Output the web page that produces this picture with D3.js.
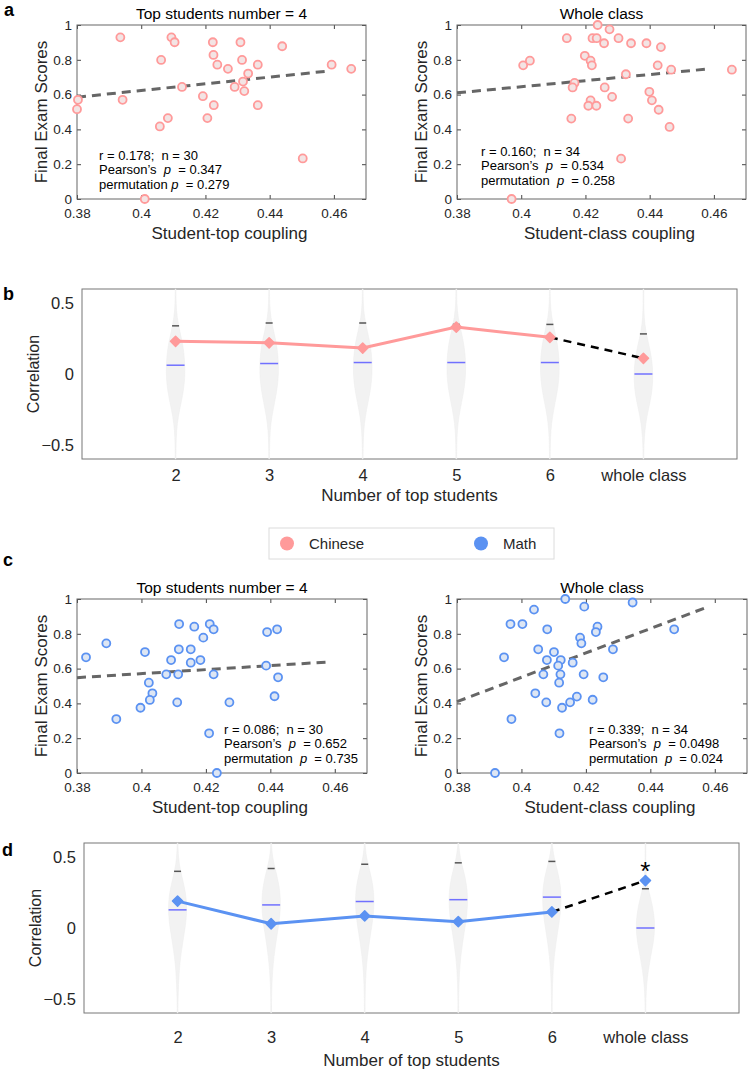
<!DOCTYPE html>
<html>
<head>
<meta charset="utf-8">
<script src="https://cdn.jsdelivr.net/npm/d3@7"></script>
<style>
  body { margin: 0; background: #fff; }
  svg { font-family: "Liberation Sans", Arial, Helvetica, sans-serif; }
  text { white-space: pre; }
</style>
</head>
<body>
<div id="chart"></div>
<script>
// ---- data ----
var xTicks = [0.38, 0.40, 0.42, 0.44, 0.46];
var yTicks = [0, 0.2, 0.4, 0.6, 0.8, 1];

var chineseTopX = [0.3935, 0.4094, 0.4104, 0.4223, 0.4309, 0.4439, 0.4062, 0.4225, 0.4237, 0.4270,
                   0.4314, 0.4363, 0.4333, 0.4593, 0.4654, 0.4317, 0.4127, 0.4291, 0.4321, 0.3803,
                   0.3942, 0.3800, 0.4192, 0.4226, 0.4363, 0.4083, 0.4206, 0.4058, 0.4503, 0.4011];
var chineseTopY = [0.929, 0.929, 0.901, 0.901, 0.901, 0.878, 0.799, 0.828, 0.772, 0.748,
                   0.799, 0.772, 0.721, 0.772, 0.748, 0.675, 0.644, 0.644, 0.620, 0.570,
                   0.570, 0.516, 0.591, 0.539, 0.539, 0.465, 0.465, 0.417, 0.233, 0.0];

var chineseClassX = [0.4238, 0.4275, 0.4142, 0.4222, 0.4235, 0.4303, 0.4258, 0.4342, 0.4390, 0.4435,
                     0.4198, 0.4216, 0.4220, 0.4006, 0.4027, 0.4425, 0.4467, 0.4656, 0.4326, 0.4166,
                     0.4160, 0.4260, 0.4399, 0.4283, 0.4216, 0.4407, 0.4209, 0.4234, 0.4428, 0.4156,
                     0.4333, 0.4462, 0.4311, 0.3970];
var chineseClassY = [1.0, 0.975, 0.924, 0.924, 0.924, 0.924, 0.895, 0.895, 0.895, 0.873,
                     0.823, 0.795, 0.768, 0.768, 0.795, 0.768, 0.743, 0.743, 0.717, 0.667,
                     0.641, 0.641, 0.616, 0.587, 0.567, 0.567, 0.536, 0.536, 0.513, 0.462,
                     0.462, 0.414, 0.232, 0.0];

var mathTopX = [0.4117, 0.4212, 0.4164, 0.4224, 0.4192, 0.4390, 0.4421, 0.3891, 0.3828, 0.4011,
                0.4116, 0.4153, 0.4092, 0.4153, 0.4183, 0.4387, 0.4077, 0.4114, 0.4224, 0.4424,
                0.4023, 0.4034, 0.4026, 0.3997, 0.4111, 0.4273, 0.4413, 0.3922, 0.4210, 0.4234];
var mathTopY = [0.856, 0.856, 0.841, 0.826, 0.778, 0.810, 0.826, 0.745, 0.665, 0.695,
                0.711, 0.711, 0.649, 0.634, 0.649, 0.617, 0.567, 0.567, 0.567, 0.550,
                0.519, 0.458, 0.420, 0.375, 0.406, 0.406, 0.441, 0.310, 0.228, 0.0];

var mathClassX = [0.4136, 0.4345, 0.4195, 0.4039, 0.3966, 0.4003, 0.4080, 0.4236, 0.4231, 0.4474,
                  0.4182, 0.4186, 0.4052, 0.4101, 0.4284, 0.3946, 0.4079, 0.4122, 0.4159, 0.4114,
                  0.4068, 0.4121, 0.4193, 0.4254, 0.4117, 0.4043, 0.4077, 0.4126, 0.4151, 0.4172,
                  0.4221, 0.3969, 0.4118, 0.3918];
var mathClassY = [1.0, 0.98, 0.956, 0.939, 0.856, 0.856, 0.826, 0.841, 0.810, 0.826,
                  0.778, 0.745, 0.711, 0.695, 0.711, 0.665, 0.649, 0.649, 0.634, 0.617,
                  0.567, 0.567, 0.567, 0.550, 0.519, 0.458, 0.406, 0.375, 0.406, 0.439,
                  0.421, 0.310, 0.228, 0.0];

// regression line ends
var fitX = [0.38, 0.458];
var chineseTopFit = [0.585, 0.735];
var chineseClassFit = [0.61, 0.747];
var mathTopFit = [0.548, 0.638];
var mathClassFit = [0.41, 0.956];

// stats text: [plain, italic p, rest]
var chineseTopStats = [["r = 0.178;  n = 30"], ["Pearson\u2019s  ", "p", "  = 0.347"], ["permutation ", "p", "  = 0.279"]];
var chineseClassStats = [["r = 0.160;  n = 34"], ["Pearson\u2019s  ", "p", "  = 0.534"], ["permutation  ", "p", "  = 0.258"]];
var mathTopStats = [["r = 0.086;  n = 30"], ["Pearson\u2019s  ", "p", "  = 0.652"], ["permutation  ", "p", "  = 0.735"]];
var mathClassStats = [["r = 0.339;  n = 34"], ["Pearson\u2019s  ", "p", "  = 0.0498"], ["permutation  ", "p", "  = 0.024"]];

// violin panels
var categories = ["2", "3", "4", "5", "6", "whole class"];
var catPos = [2, 3, 4, 5, 6, 7];
var corrTicks = [-0.5, 0, 0.5];
var corrLevels = [-0.6, -0.5, -0.4, -0.3, -0.2, -0.1, 0, 0.1, 0.2, 0.3, 0.4, 0.5, 0.6];

var chineseCorr = [0.231, 0.220, 0.183, 0.331, 0.259, 0.111];
var chineseNullMean = [0.062, 0.074, 0.081, 0.081, 0.081, 0.0];
var chineseNull95 = [0.34, 0.36, 0.36, 0.35, 0.35, 0.283];
var chineseDensity = [
  [0.02, 0.05, 0.10, 0.28, 0.60, 0.88, 1.00, 0.95, 0.80, 0.45, 0.15, 0.05, 0.02],
  [0.02, 0.05, 0.10, 0.28, 0.58, 0.86, 1.00, 0.97, 0.82, 0.48, 0.16, 0.05, 0.02],
  [0.02, 0.05, 0.10, 0.27, 0.56, 0.85, 1.00, 0.98, 0.83, 0.50, 0.17, 0.05, 0.02],
  [0.02, 0.05, 0.10, 0.27, 0.56, 0.85, 1.00, 0.98, 0.84, 0.52, 0.18, 0.05, 0.02],
  [0.02, 0.05, 0.10, 0.27, 0.56, 0.85, 1.00, 0.98, 0.84, 0.52, 0.18, 0.05, 0.02],
  [0.02, 0.05, 0.15, 0.35, 0.70, 0.95, 1.00, 0.90, 0.60, 0.25, 0.06, 0.02, 0.01]
];

var mathCorr = [0.19, 0.03, 0.085, 0.045, 0.113, 0.335];
var mathNullMean = [0.128, 0.163, 0.187, 0.20, 0.218, 0.0];
var mathNull95 = [0.40, 0.42, 0.45, 0.46, 0.47, 0.277];
var mathDensity = [
  [0.02, 0.05, 0.10, 0.18, 0.32, 0.55, 0.80, 0.97, 0.95, 0.70, 0.30, 0.08, 0.02],
  [0.00, 0.03, 0.08, 0.15, 0.30, 0.50, 0.75, 0.95, 1.00, 0.85, 0.50, 0.12, 0.02],
  [0.00, 0.03, 0.07, 0.14, 0.28, 0.48, 0.72, 0.93, 1.00, 0.88, 0.55, 0.15, 0.02],
  [0.00, 0.03, 0.07, 0.13, 0.26, 0.46, 0.70, 0.92, 1.00, 0.90, 0.58, 0.17, 0.02],
  [0.00, 0.03, 0.07, 0.13, 0.25, 0.44, 0.68, 0.90, 1.00, 0.92, 0.62, 0.20, 0.02],
  [0.01, 0.05, 0.12, 0.30, 0.55, 0.85, 1.00, 0.90, 0.60, 0.20, 0.03, 0.00, 0.00]
];

var pink = "#ff9a9a", pinkFill = "#f3e4e4";
var blue = "#5b92f2", blueFill = "#dde6f4";
var textCol = "#262626";

var svg = d3.select("#chart").append("svg")
    .attr("width", 748)
    .attr("height", 1070);

// panel letters
[["a", 4, 16], ["b", 3, 300], ["c", 3, 566], ["d", 2, 856]].forEach(function(l) {
  svg.append("text").attr("x", l[1]).attr("y", l[2])
    .style("font-weight", "bold").style("font-size", "18px").attr("fill", "#000").text(l[0]);
});

function drawScatter(o) {
  var x = d3.scaleLinear().domain([0.38, 0.47]).range([o.x0, o.x1]),
      y = d3.scaleLinear().domain([0, 1]).range([o.y1, o.y0]);
  var g = svg.append("g");

  g.append("g").attr("transform", "translate(0," + o.y1 + ")")
    .call(d3.axisBottom(x).tickValues(xTicks).tickSize(-4).tickPadding(9).tickFormat(d3.format("")));
  g.append("g").attr("transform", "translate(0," + o.y0 + ")")
    .call(d3.axisTop(x).tickValues(xTicks).tickSize(-4).tickFormat(""));
  g.append("g").attr("transform", "translate(" + o.x0 + ",0)")
    .call(d3.axisLeft(y).tickValues(yTicks).tickSize(-4).tickPadding(5).tickFormat(d3.format("")));
  g.append("g").attr("transform", "translate(" + o.x1 + ",0)")
    .call(d3.axisRight(y).tickValues(yTicks).tickSize(-4).tickFormat(""));
  g.selectAll(".domain").remove();
  g.selectAll(".tick line").attr("stroke", "#444");
  g.selectAll(".tick text").attr("fill", textCol).style("font-size", "13.5px")
    .style("font-family", "'Liberation Sans', Arial, sans-serif");

  g.append("rect").attr("x", o.x0).attr("y", o.y0)
    .attr("width", o.x1 - o.x0).attr("height", o.y1 - o.y0)
    .attr("fill", "none").attr("stroke", "#666");

  g.append("path")
    .attr("d", d3.line()(fitX.map(function(v, i) { return [x(v), y(o.fit[i])]; })))
    .attr("stroke", "#666").attr("stroke-width", 3).attr("stroke-dasharray", "9,6").attr("fill", "none");

  g.selectAll(".pt").data(o.xs).enter().append("circle")
    .attr("cx", function(d) { return x(d); })
    .attr("cy", function(d, i) { return y(o.ys[i]); })
    .attr("r", 4)
    .attr("fill", o.fill).attr("stroke", o.stroke).attr("stroke-width", 1.8);

  g.append("text").attr("x", (o.x0 + o.x1) / 2).attr("y", o.y0 - 6)
    .attr("text-anchor", "middle").style("font-size", "15.5px").attr("fill", "#000").text(o.title);
  g.append("text").attr("x", (o.x0 + o.x1) / 2 + 8).attr("y", o.y1 + 40)
    .attr("text-anchor", "middle").style("font-size", "17px").attr("fill", textCol).text(o.xlabel);
  g.append("text")
    .attr("transform", "translate(" + (o.x0 - 30) + "," + ((o.y0 + o.y1) / 2) + ") rotate(-90)")
    .attr("text-anchor", "middle").style("font-size", "17px").attr("fill", textCol).text("Final Exam Scores");

  var st = g.append("text").style("font-size", "13px").attr("fill", "#000");
  o.stats.forEach(function(line, i) {
    var t = st.append("tspan").attr("x", o.sx).attr("y", o.sy + i * 14.3);
    line.forEach(function(part, j) {
      t.append("tspan").style("font-style", j === 1 ? "italic" : "normal").text(part);
    });
  });
}

drawScatter({x0: 77, x1: 366, y0: 25, y1: 199, xs: chineseTopX, ys: chineseTopY, fit: chineseTopFit,
  title: "Top students number = 4", xlabel: "Student-top coupling", stats: chineseTopStats,
  sx: 99, sy: 160, stroke: pink, fill: pinkFill});
drawScatter({x0: 457, x1: 746, y0: 25, y1: 199, xs: chineseClassX, ys: chineseClassY, fit: chineseClassFit,
  title: "Whole class", xlabel: "Student-class coupling", stats: chineseClassStats,
  sx: 481, sy: 156, stroke: pink, fill: pinkFill});
drawScatter({x0: 77, x1: 367, y0: 599, y1: 773, xs: mathTopX, ys: mathTopY, fit: mathTopFit,
  title: "Top students number = 4", xlabel: "Student-top coupling", stats: mathTopStats,
  sx: 224, sy: 734, stroke: blue, fill: blueFill});
drawScatter({x0: 457, x1: 747, y0: 599, y1: 773, xs: mathClassX, ys: mathClassY, fit: mathClassFit,
  title: "Whole class", xlabel: "Student-class coupling", stats: mathClassStats,
  sx: 589, sy: 734, stroke: blue, fill: blueFill});

function drawViolins(o) {
  var x = d3.scaleLinear().domain([1, 8]).range([o.x0, o.x1]),
      y = d3.scaleLinear().domain([-0.6, 0.6]).range([o.y1, o.y0]);
  var g = svg.append("g");
  var halfW = 9.5;

  g.append("rect").attr("x", o.x0).attr("y", o.y0)
    .attr("width", o.x1 - o.x0).attr("height", o.y1 - o.y0)
    .attr("fill", "none").attr("stroke", "#777");

  o.density.forEach(function(dens, i) {
    var cx = x(catPos[i]);
    var area = d3.area()
      .curve(d3.curveBasis)
      .y(function(d, k) { return y(corrLevels[k]); })
      .x0(function(d) { return cx - Math.max(d, 0.04) * halfW; })
      .x1(function(d) { return cx + Math.max(d, 0.04) * halfW; });
    g.append("path").attr("d", area(dens))
      .attr("fill", "#f2f2f2").attr("stroke", "#ececec").attr("stroke-width", 0.5);
    g.append("line").attr("x1", cx - 9).attr("x2", cx + 9)
      .attr("y1", y(o.nullMean[i])).attr("y2", y(o.nullMean[i]))
      .attr("stroke", "#7070ff").attr("stroke-width", 1.5);
    g.append("line").attr("x1", cx - 3.5).attr("x2", cx + 3.5)
      .attr("y1", y(o.null95[i])).attr("y2", y(o.null95[i]))
      .attr("stroke", "#555").attr("stroke-width", 1.5);
  });

  var pts = o.corr.map(function(v, i) { return [x(catPos[i]), y(v)]; });
  g.append("path").attr("d", d3.line()(pts.slice(0, 5)))
    .attr("stroke", o.color).attr("stroke-width", 3).attr("fill", "none");
  g.append("path").attr("d", d3.line()(pts.slice(4)))
    .attr("stroke", "#000").attr("stroke-width", 2.5).attr("stroke-dasharray", "8,6").attr("fill", "none");
  g.selectAll(".mk").data(pts).enter().append("path")
    .attr("d", d3.symbol().type(d3.symbolSquare).size(52))
    .attr("transform", function(d) { return "translate(" + d[0] + "," + d[1] + ") rotate(45)"; })
    .attr("fill", o.color).attr("stroke", o.color).attr("stroke-width", 1.5).attr("stroke-linejoin", "round");

  g.append("g").attr("transform", "translate(" + o.x0 + ",0)")
    .call(d3.axisLeft(y).tickValues(corrTicks).tickSize(0).tickPadding(8).tickFormat(d3.format("")));
  g.append("g").attr("transform", "translate(0," + o.y1 + ")")
    .call(d3.axisBottom(x).tickValues(catPos).tickSize(0).tickPadding(o.xPad)
      .tickFormat(function(d, i) { return categories[i]; }));
  g.selectAll(".domain").remove();
  g.selectAll(".tick text").attr("fill", textCol).style("font-size", "16.5px")
    .style("font-family", "'Liberation Sans', Arial, sans-serif");

  g.append("text").attr("x", x(4.5)).attr("y", o.y1 + o.xlabDy)
    .attr("text-anchor", "middle").style("font-size", "17px").attr("fill", textCol).text("Number of top students");
  g.append("text")
    .attr("transform", "translate(" + (o.x0 - 43) + "," + y(0) + ") rotate(-90)")
    .attr("text-anchor", "middle").style("font-size", "16px").attr("fill", textCol).text("Correlation");

  if (o.star) {
    g.append("text").attr("x", x(7)).attr("y", y(o.corr[5]) - 1)
      .attr("text-anchor", "middle").style("font-size", "26px").attr("fill", "#000").text("*");
  }
}

drawViolins({x0: 82, x1: 737, y0: 289, y1: 459, density: chineseDensity, corr: chineseCorr,
  nullMean: chineseNullMean, null95: chineseNull95, color: pink, xPad: 10, xlabDy: 42, star: false});
drawViolins({x0: 84, x1: 739, y0: 843, y1: 1013, density: mathDensity, corr: mathCorr,
  nullMean: mathNullMean, null95: mathNull95, color: blue, xPad: 18, xlabDy: 53, star: true});

// legend
var leg = svg.append("g");
leg.append("rect").attr("x", 269).attr("y", 528).attr("width", 285).attr("height", 31)
  .attr("fill", "#fff").attr("stroke", "#dcdcdc");
[["Chinese", pink, 287], ["Math", blue, 481]].forEach(function(l) {
  leg.append("circle").attr("cx", l[2]).attr("cy", 543.5).attr("r", 7).attr("fill", l[1]);
  leg.append("text").attr("x", l[2] + 22).attr("y", 549).style("font-size", "15px")
    .attr("fill", textCol).text(l[0]);
});
</script>
</body>
</html>
